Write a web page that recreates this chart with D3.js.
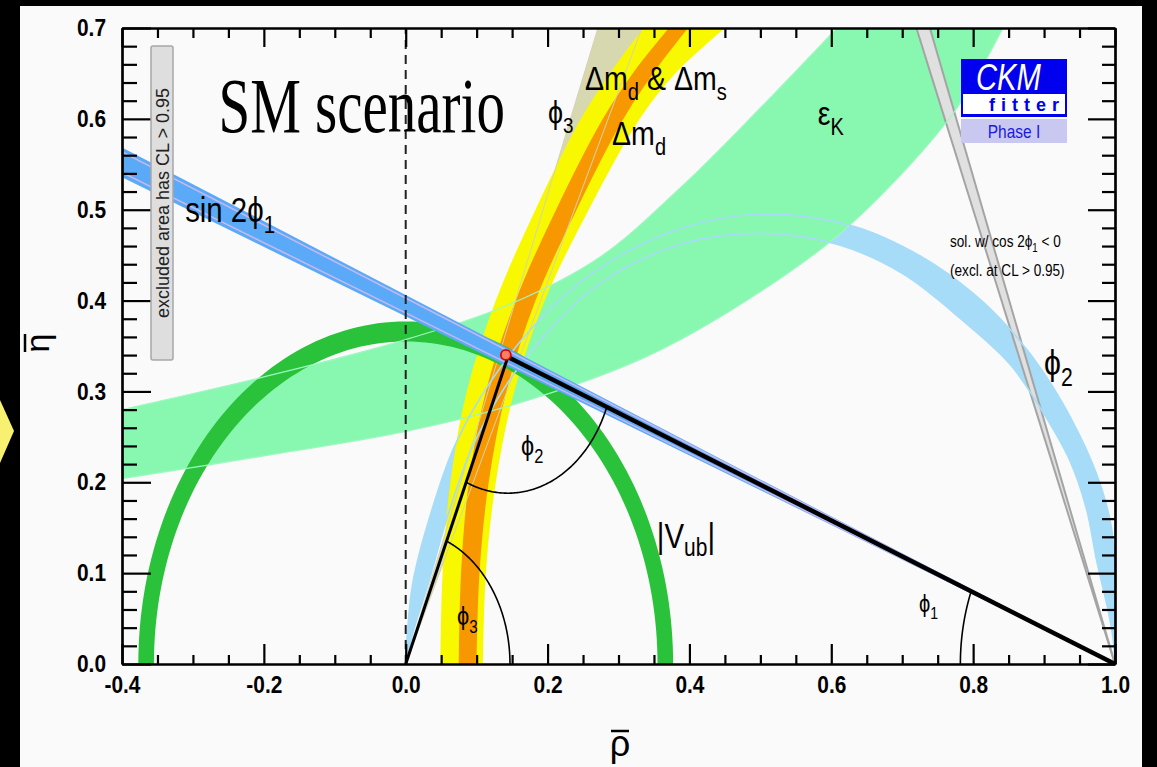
<!DOCTYPE html>
<html>
<head>
<meta charset="utf-8">
<script src="https://cdn.jsdelivr.net/npm/d3@7/dist/d3.min.js"></script>
<style>
  body { margin: 0; background: #000; }
  svg { display: block; }
  text { font-family: "Liberation Sans", Arial, sans-serif; }
</style>
</head>
<body>
<svg id="chart" width="1157" height="767"></svg>
<script>
// ---- data (rho, eta) ----
const xMajor = [-0.4, -0.2, 0.0, 0.2, 0.4, 0.6, 0.8, 1.0];
const yMajor = [0.0, 0.1, 0.2, 0.3, 0.4, 0.5, 0.6, 0.7];
const xTickLabels = ['-0.4', '-0.2', '0.0', '0.2', '0.4', '0.6', '0.8', '1.0'];
const yTickLabels = ['0.0', '0.1', '0.2', '0.3', '0.4', '0.5', '0.6', '0.7'];

// unitarity triangle apex
const apex = [0.144, 0.338];

// |Vub| ring around (0,0): inner / outer radius
const vubRadii = [0.355, 0.377];

// sin 2phi1 band: rays from (1,0), eta where they reach rho = -0.4
const sin2phi1Edges = [0.5356, 0.5686];
const sin2phi1Inner = [0.541, 0.5637];

// second sin 2phi1 solution (grey): rays from (1,0), rho where they reach eta = 0.7
const cosNegEdges = [0.720, 0.739];

// phi3 wedge: rays from (0,0), rho where they reach eta = 0.7
const phi3Edges = [0.271, 0.333];

// Delta m_d (yellow) and Delta m_d & Delta m_s (orange) bands
const dmdLeft = [[0.049, 0], [0.052, 0.1], [0.063, 0.2], [0.086, 0.3], [0.127, 0.4], [0.183, 0.5], [0.247, 0.6], [0.288, 0.65], [0.335, 0.7]];
const dmdRight = [[0.109, 0], [0.113, 0.1], [0.127, 0.2], [0.153, 0.3], [0.196, 0.4], [0.258, 0.5], [0.330, 0.6], [0.380, 0.65], [0.450, 0.7]];
const dmsLeft = [[0.075, 0], [0.078, 0.1], [0.089, 0.2], [0.113, 0.3], [0.155, 0.4], [0.212, 0.5], [0.278, 0.6], [0.320, 0.65], [0.371, 0.7]];
const dmsRight = [[0.100, 0], [0.104, 0.1], [0.117, 0.2], [0.142, 0.3], [0.183, 0.4], [0.241, 0.5], [0.307, 0.6], [0.349, 0.65], [0.398, 0.7]];

// epsilon_K band
const ekLower = [[-0.4, 0.204], [-0.2, 0.229], [0.0, 0.256], [0.15, 0.285], [0.33, 0.335], [0.46, 0.390], [0.602, 0.467], [0.70, 0.54], [0.78, 0.615], [0.842, 0.70]];
const ekUpper = [[-0.4, 0.280], [-0.2, 0.316], [0.0, 0.357], [0.15, 0.397], [0.274, 0.448], [0.391, 0.527], [0.5, 0.612], [0.608, 0.70]];

// phi2 (alpha) band, two edges from (0,0) to (1,0)
const alphaOuter = [[0.0, 0.0], [0.002, 0.03], [0.010, 0.089], [0.034, 0.162], [0.069, 0.24], [0.119, 0.31], [0.19, 0.38], [0.274, 0.436], [0.387, 0.479], [0.499, 0.495], [0.63, 0.482], [0.73, 0.447], [0.80, 0.408], [0.85, 0.37], [0.90, 0.32], [0.95, 0.252], [0.98, 0.196], [0.995, 0.15], [1.0, 0.1], [1.0, 0.0]];
const alphaInner = [[0.0, 0.0], [0.010, 0.034], [0.032, 0.089], [0.058, 0.16], [0.092, 0.235], [0.14, 0.305], [0.20, 0.365], [0.274, 0.419], [0.387, 0.462], [0.499, 0.474], [0.608, 0.462], [0.70, 0.43], [0.784, 0.379], [0.852, 0.33], [0.90, 0.275], [0.936, 0.2245], [0.96, 0.17], [0.974, 0.1145], [0.99, 0.06], [0.997, 0.03], [1.0, 0.0]];

// angle arc radii at the three corners
const phiArcRadius = { phi1: 0.218, phi2: 0.150, phi3: 0.147 };

// ---- layout ----
const margin = { left: 122, right: 1115, top: 28, bottom: 664 };
const x = d3.scaleLinear().domain([-0.4, 1.0]).range([margin.left, margin.right]);
const y = d3.scaleLinear().domain([0, 0.7]).range([margin.bottom, margin.top]);
const NARROW = 0.84;   // the original uses a condensed Helvetica

const svg = d3.select('#chart');

// frame
svg.append('rect').attr('width', 1157).attr('height', 767).attr('fill', '#000');
svg.append('rect').attr('x', 20).attr('y', 6).attr('width', 1122).attr('height', 761).attr('fill', '#fafafa');
svg.append('path').attr('d', 'M0,400L14,431L0,463Z').attr('fill', '#f8f070');

svg.append('clipPath').attr('id', 'plot-clip')
  .append('rect')
  .attr('x', margin.left).attr('y', margin.top)
  .attr('width', margin.right - margin.left).attr('height', margin.bottom - margin.top);

const plot = svg.append('g').attr('clip-path', 'url(#plot-clip)');

const line = d3.line().x(d => x(d[0])).y(d => y(d[1]));
const smooth = d3.line().x(d => x(d[0])).y(d => y(d[1])).curve(d3.curveCatmullRom.alpha(0.5));

function band(a, b) {
  return smooth(a) + 'L' + smooth(b.slice().reverse()).slice(1) + 'Z';
}

function circlePts(c, r, a0, a1, n = 120) {
  return d3.range(n + 1).map(i => {
    const t = a0 + (a1 - a0) * i / n;
    return [c[0] + r * Math.cos(t), c[1] + r * Math.sin(t)];
  });
}

// phi3 wedge
plot.append('path')
  .attr('d', line([[0, 0], [phi3Edges[0] * 1.5, 1.05], [phi3Edges[1] * 1.5, 1.05]]) + 'Z')
  .attr('fill', '#d8d8b0');

// alpha band fill
plot.append('path').attr('d', band(alphaOuter, alphaInner)).attr('fill', '#a6dcf8');

// epsilon_K
plot.append('path').attr('d', band(ekLower, ekUpper)).attr('fill', '#88f8b0');

// grey second solution
const grayPts = cosNegEdges.map(r => [1 + (r - 1) * 1.1, 0.77]);
plot.append('path').attr('d', line([[1, 0], grayPts[0], grayPts[1]]) + 'Z').attr('fill', '#e0e0e0');
grayPts.forEach(p => plot.append('path').attr('d', line([[1, 0], p]))
  .attr('stroke', '#a4a4a4').attr('stroke-width', 2).attr('fill', 'none'));

// Delta m bands
plot.append('path').attr('d', band(dmdLeft, dmdRight)).attr('fill', '#f8f800');
plot.append('path').attr('d', band(dmsLeft, dmsRight)).attr('fill', '#f89800');

// phi3 wedge outlines shining through
phi3Edges.forEach(r => plot.append('path').attr('d', line([[0, 0], [r, 0.7]]))
  .attr('stroke', '#d4d2b4').attr('stroke-width', 1).attr('fill', 'none'));

// |Vub| ring
const vubOuter = circlePts([0, 0], vubRadii[1], 0, Math.PI);
const vubInner = circlePts([0, 0], vubRadii[0], 0, Math.PI);
plot.append('path').attr('d', line(vubOuter) + 'L' + line(vubInner.reverse()).slice(1) + 'Z').attr('fill', '#2ac23a');

// epsilon_K edges over the ring
[ekLower, ekUpper].forEach(e => plot.append('path').attr('d', smooth(e))
  .attr('stroke', '#9cf8c0').attr('stroke-width', 1.2).attr('fill', 'none'));

// alpha band outlines
[alphaOuter, alphaInner].forEach(e => plot.append('path').attr('d', smooth(e))
  .attr('stroke', '#a6dcf8').attr('stroke-width', 1.6).attr('fill', 'none'));

// sin 2phi1 band
plot.append('path')
  .attr('d', line([[1, 0], [-0.4, sin2phi1Edges[0]], [-0.4, sin2phi1Edges[1]]]) + 'Z')
  .attr('fill', '#5aaaf8');
sin2phi1Inner.forEach(e => plot.append('path').attr('d', line([[1, 0], [-0.4, e]]))
  .attr('stroke', '#c8b8f0').attr('stroke-width', 1.5).attr('fill', 'none'));

// dashed rho = 0
plot.append('path').attr('d', line([[0, 0], [0, 0.7]]))
  .attr('stroke', '#222').attr('stroke-width', 2).attr('stroke-dasharray', '9,6').attr('fill', 'none');

// triangle
plot.append('path').attr('d', line([[0, 0], apex]))
  .attr('stroke', '#000').attr('stroke-width', 3).attr('fill', 'none');
plot.append('path').attr('d', line([apex, [1, 0]]))
  .attr('stroke', '#000').attr('stroke-width', 4.5).attr('fill', 'none');

// angle arcs
const ang = (p, q) => Math.atan2(q[1] - p[1], q[0] - p[0]);
plot.append('path')
  .attr('d', line(circlePts([0, 0], phiArcRadius.phi3, 0, ang([0, 0], apex))))
  .attr('stroke', '#000').attr('stroke-width', 1.6).attr('fill', 'none');
plot.append('path')
  .attr('d', line(circlePts(apex, phiArcRadius.phi2, ang(apex, [0, 0]), ang(apex, [1, 0]))))
  .attr('stroke', '#000').attr('stroke-width', 1.6).attr('fill', 'none');
plot.append('path')
  .attr('d', line(circlePts([1, 0], phiArcRadius.phi1, Math.PI, ang([1, 0], apex))))
  .attr('stroke', '#000').attr('stroke-width', 1.6).attr('fill', 'none');

// apex marker
plot.append('circle').attr('cx', x(apex[0]) - 2).attr('cy', y(apex[1]) - 2).attr('r', 5)
  .attr('fill', '#f88060').attr('stroke', '#e00000').attr('stroke-width', 1.8);

// ---- axes ----
const axisG = svg.append('g');
const minorX = d3.range(-0.4, 1.0001, 0.05).filter(v => Math.abs(Math.round(v * 5) - v * 5) > 1e-6);
const minorY = d3.range(0, 0.7001, 0.02).filter(v => Math.abs(Math.round(v * 10) - v * 10) > 1e-6);

function styleAxis(g) {
  g.selectAll('path').attr('stroke', '#000').attr('stroke-width', 2.2);
  g.selectAll('line').attr('stroke', '#000').attr('stroke-width', 2.2);
  g.selectAll('text').attr('fill', '#000').attr('font-size', 24).attr('font-weight', 'bold')
    .attr('font-family', '"Liberation Sans", Arial, sans-serif')
    .attr('x', function () { return (+d3.select(this).attr('x') || 0) / 0.87; })
    .attr('transform', 'scale(0.87,1)');
}

axisG.append('g').attr('transform', `translate(0,${margin.bottom})`)
  .call(d3.axisBottom(x).tickValues(xMajor).tickSize(-20).tickSizeOuter(0).tickPadding(12)
    .tickFormat((d, i) => xTickLabels[i])).call(styleAxis);
axisG.append('g').attr('transform', `translate(0,${margin.bottom})`)
  .call(d3.axisBottom(x).tickValues(minorX).tickSize(-9).tickSizeOuter(0).tickFormat('')).call(styleAxis);
axisG.append('g').attr('transform', `translate(0,${margin.top})`)
  .call(d3.axisTop(x).tickValues(xMajor).tickSize(-19).tickSizeOuter(0).tickFormat('')).call(styleAxis);
axisG.append('g').attr('transform', `translate(0,${margin.top})`)
  .call(d3.axisTop(x).tickValues(minorX).tickSize(-10).tickSizeOuter(0).tickFormat('')).call(styleAxis);

axisG.append('g').attr('transform', `translate(${margin.left},0)`)
  .call(d3.axisLeft(y).tickValues(yMajor).tickSize(-29).tickSizeOuter(0).tickPadding(16)
    .tickFormat((d, i) => yTickLabels[i])).call(styleAxis);
axisG.append('g').attr('transform', `translate(${margin.left},0)`)
  .call(d3.axisLeft(y).tickValues(minorY).tickSize(-15).tickSizeOuter(0).tickFormat('')).call(styleAxis);
axisG.append('g').attr('transform', `translate(${margin.right},0)`)
  .call(d3.axisRight(y).tickValues(yMajor).tickSize(-27).tickSizeOuter(0).tickFormat('')).call(styleAxis);
axisG.append('g').attr('transform', `translate(${margin.right},0)`)
  .call(d3.axisRight(y).tickValues(minorY).tickSize(-13).tickSizeOuter(0).tickFormat('')).call(styleAxis);

// axis titles
const rhoT = svg.append('g').attr('transform', 'translate(620,756)');
rhoT.append('text').attr('text-anchor', 'middle').attr('font-size', 36).text('ρ');
rhoT.append('line').attr('x1', -9).attr('x2', 9).attr('y1', -25).attr('y2', -25).attr('stroke', '#000').attr('stroke-width', 2.5);
const etaT = svg.append('g').attr('transform', 'translate(49,343) rotate(-90)');
etaT.append('text').attr('text-anchor', 'middle').attr('font-size', 34).text('η');
etaT.append('line').attr('x1', -9).attr('x2', 9).attr('y1', -24).attr('y2', -24).attr('stroke', '#000').attr('stroke-width', 2.5);

// ---- annotations ----
const PHI = 'ϕ';
function narrowText(px, py, size, sx = NARROW) {
  return svg.append('text')
    .attr('transform', `translate(${px},${py}) scale(${sx},1)`)
    .attr('font-size', size).attr('fill', '#000');
}
function label(pos, main, sub, size) {
  const t = narrowText(x(pos[0]), y(pos[1]), size);
  t.append('tspan').text(main);
  if (sub) t.append('tspan').attr('dy', size * 0.3).attr('font-size', size * 0.7).text(sub);
  return t;
}

label([-0.311, 0.486], 'sin 2' + PHI, '1', 35);
label([0.2006, 0.5954], PHI, '3', 32);
label([0.2909, 0.5712], 'Δm', 'd', 34);
label([0.581, 0.593], 'ε', 'K', 34);
label([0.1626, 0.23], PHI, '2', 28);
label([0.0723, 0.0429], PHI, '3', 26);
label([0.7235, 0.0572], PHI, '1', 24);
label([0.900, 0.318], PHI, '2', 36);

// "Delta m_d & Delta m_s"
const dm = narrowText(x(0.2528), y(0.6317), 34);
dm.append('tspan').text('Δm');
dm.append('tspan').attr('dy', 10).attr('font-size', 24).text('d');
dm.append('tspan').attr('dy', -10).text(' & Δm');
dm.append('tspan').attr('dy', 10).attr('font-size', 24).text('s');

// |V_ub|
const vub = narrowText(x(0.354), y(0.1277), 35);
vub.append('tspan').text('|V');
vub.append('tspan').attr('dy', 8).attr('font-size', 25).text('ub');
vub.append('tspan').attr('dy', -8).text('|');

// SM scenario
svg.append('text')
  .attr('transform', `translate(${x(-0.264)},${y(0.5855)}) scale(1,1.38)`)
  .attr('font-size', 57).style('font-family', '"Liberation Serif", "Times New Roman", serif')
  .text('SM scenario');

// cos 2phi1 < 0 note
const sol = narrowText(x(0.7674), y(0.459), 17, 0.8);
sol.append('tspan').text('sol. w/ cos 2' + PHI);
sol.append('tspan').attr('dy', 5).attr('font-size', 12).text('1');
sol.append('tspan').attr('dy', -5).text(' < 0');
narrowText(x(0.7674), y(0.427), 17, 0.8).text('(excl. at CL > 0.95)');

// excluded area note (rotated box)
const ex = svg.append('g').attr('transform', 'translate(162,203) rotate(-90)');
ex.append('rect').attr('x', -157).attr('y', -11).attr('width', 314).attr('height', 22).attr('rx', 2)
  .attr('fill', '#dedede').attr('stroke', '#a8a8a8').attr('stroke-width', 1.5);
ex.append('text').attr('text-anchor', 'middle').attr('y', 6.5).attr('font-size', 18)
  .attr('fill', '#222').text('excluded area has CL > 0.95');

// CKMfitter logo
const logo = svg.append('g').attr('transform', 'translate(961,59)');
logo.append('rect').attr('width', 106).attr('height', 34).attr('fill', '#0000ee');
logo.append('text').attr('transform', 'translate(15,31) scale(0.79,1)').attr('font-size', 37)
  .attr('font-style', 'italic').attr('fill', '#fff').text('CKM');
logo.append('rect').attr('x', 1).attr('y', 34).attr('width', 104).attr('height', 22)
  .attr('fill', '#fff').attr('stroke', '#0000ee').attr('stroke-width', 2);
logo.append('rect').attr('x', 0).attr('y', 55).attr('width', 106).attr('height', 3).attr('fill', '#0000ee');
logo.append('text').attr('x', 28).attr('y', 52).attr('font-size', 18).attr('font-weight', 'bold')
  .attr('letter-spacing', 6).attr('fill', '#0000ee').text('fitter');
logo.append('rect').attr('y', 60).attr('width', 106).attr('height', 24).attr('fill', '#c8c8f0');
logo.append('text').attr('transform', 'translate(53,79) scale(0.86,1)').attr('text-anchor', 'middle')
  .attr('font-size', 18).attr('fill', '#1a1ae0').text('Phase I');
</script>
</body>
</html>
